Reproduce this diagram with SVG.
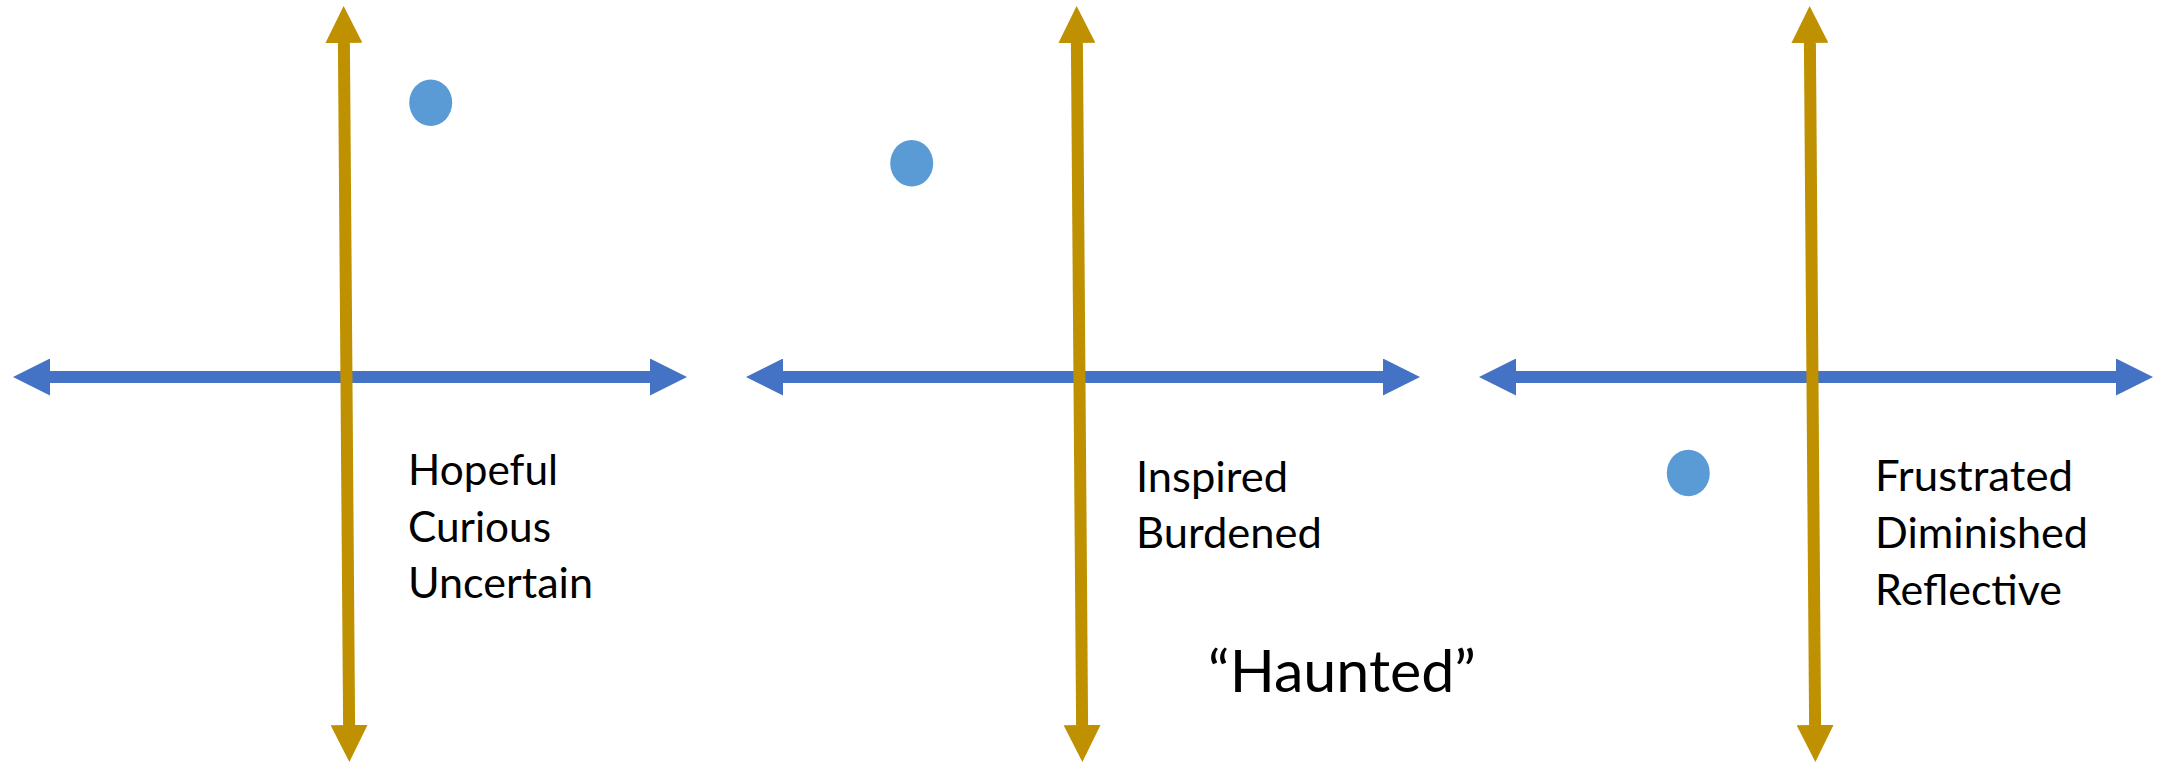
<svg xmlns="http://www.w3.org/2000/svg" width="2160" height="762" viewBox="0 0 2160 762">
  <style>
    .h { stroke: #4472C4; stroke-width: 12; fill: none; marker-start: url(#ah); marker-end: url(#ah); }
    .v { stroke: #BF9000; stroke-width: 12; fill: none; marker-start: url(#av); marker-end: url(#av); }
    .dot { fill: #5B9BD5; }
    .lbl { font-family: Lato, "Open Sans", sans-serif; font-size: 42px; fill: #000; }
    .big { font-family: Lato, "Open Sans", sans-serif; font-size: 58px; fill: #000; }
  </style>
  <defs>
    <marker id="ah" markerUnits="userSpaceOnUse" markerWidth="37" markerHeight="37" viewBox="0 -18.5 37 37" refX="0" refY="0" orient="auto-start-reverse">
      <path d="M0,-18.5 L37,0 L0,18.5 z" fill="#4472C4"/>
    </marker>
    <marker id="av" markerUnits="userSpaceOnUse" markerWidth="37" markerHeight="37" viewBox="0 -18.5 37 37" refX="0" refY="0" orient="auto-start-reverse">
      <path d="M0,-18.5 L37,0 L0,18.5 z" fill="#BF9000"/>
    </marker>
  </defs>
  <rect width="2160" height="762" fill="#fff"/>
  <g id="connectors">
    <line class="h" x1="50" y1="377" x2="650" y2="377"/>
    <line class="h" x1="783" y1="377" x2="1383" y2="377"/>
    <line class="h" x1="1516" y1="377" x2="2116" y2="377"/>
    <line class="v" x1="343.9" y1="43" x2="349.1" y2="725"/>
    <line class="v" x1="1076.9" y1="43" x2="1082.1" y2="725"/>
    <line class="v" x1="1809.9" y1="43" x2="1815.1" y2="725"/>
  </g>
  <g id="point1"><ellipse class="dot" cx="430.7" cy="102.7" rx="21.5" ry="23.3"/></g>
  <g id="point2"><ellipse class="dot" cx="911.7" cy="163.3" rx="21.5" ry="23.3"/></g>
  <g id="point3"><ellipse class="dot" cx="1688.3" cy="473" rx="21.5" ry="23.3"/></g>
  <g id="labels1">
    <text class="lbl" x="408" y="485" textLength="150" lengthAdjust="spacingAndGlyphs">Hopeful</text>
    <text class="lbl" x="408" y="542" textLength="143" lengthAdjust="spacingAndGlyphs">Curious</text>
    <text class="lbl" x="408" y="598" textLength="185" lengthAdjust="spacingAndGlyphs">Uncertain</text>
  </g>
  <g id="labels2">
    <text class="lbl" x="1136" y="491.5" textLength="152" lengthAdjust="spacingAndGlyphs">Inspired</text>
    <text class="lbl" x="1136" y="548" textLength="186" lengthAdjust="spacingAndGlyphs">Burdened</text>
  </g>
  <g id="labels3">
    <text class="lbl" x="1875" y="491" textLength="198" lengthAdjust="spacingAndGlyphs">Frustrated</text>
    <text class="lbl" x="1875" y="548" textLength="213" lengthAdjust="spacingAndGlyphs">Diminished</text>
    <text class="lbl" x="1875" y="605" textLength="187" lengthAdjust="spacingAndGlyphs">Reflective</text>
  </g>
  <g id="title">
    <text class="big" x="1208" y="691.5" textLength="268" lengthAdjust="spacingAndGlyphs">“Haunted”</text>
  </g>
</svg>
